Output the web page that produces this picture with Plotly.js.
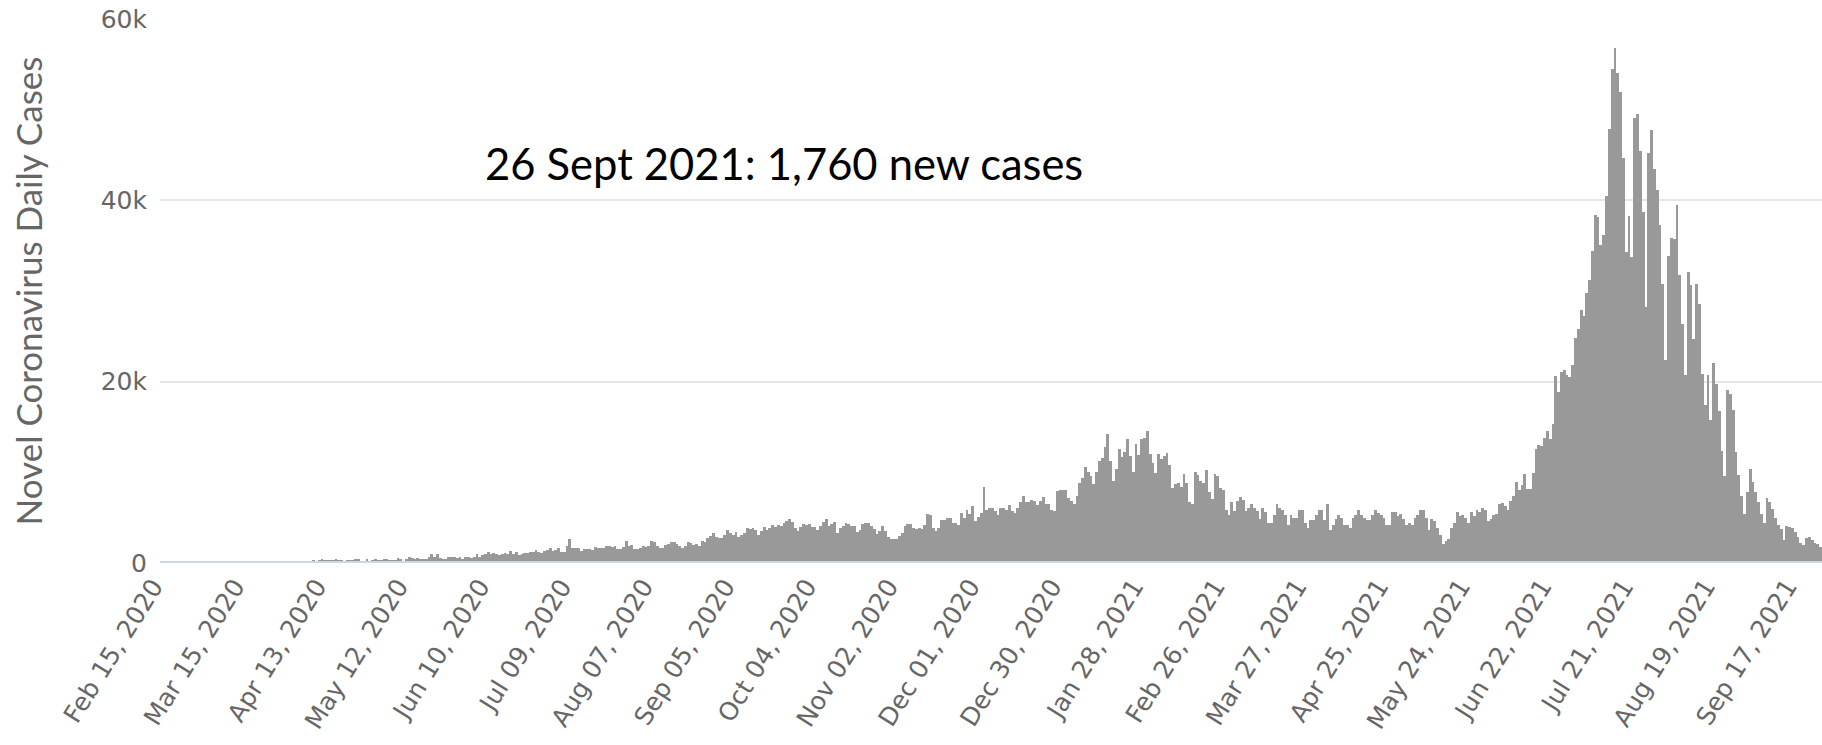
<!DOCTYPE html>
<html>
<head>
<meta charset="utf-8">
<script src="https://cdn.plot.ly/plotly-3.0.1.min.js"></script>
<style>
html, body { margin: 0; padding: 0; background: #ffffff; }
#chart { width: 1822px; height: 745px; }
</style>
</head>
<body>
<div id="chart"></div>
<script>
// ---- Data (daily new cases) ----
const firstDay = [2020, 1, 15]; // Feb 15, 2020 (UTC year, monthIndex, day)

const feb2020 = [0,0,0,0,0,0,0,0,0,0,0,0,0,0,0];
const mar2020 = [0,2,0,0,0,2,0,2,13,8,7,0,35,27,21,17,38,55,82,60,81,64,65,107,105,103,153,109,130,129,114];
const apr2020 = [149,113,196,106,181,218,247,218,337,219,330,399,316,282,297,380,407,325,327,185,375,283,357,436,396,275,214,415,260,347];
const may2020 = [433,292,349,395,484,367,338,336,533,387,233,484,689,568,490,529,489,496,486,693,973,634,949,526,479,415,686,687,678,557,700];
const jun2020 = [467,609,684,585,703,993,672,847,1043,1241,979,1111,1014,857,1017,1106,1031,1331,1041,1226,862,954,1051,1113,1178,1240,1385,1198,1082,1293];
const jul2020 = [1385,1624,1301,1447,1607,1209,1268,1853,2657,1611,1671,1681,1282,1591,1522,1574,1462,1752,1639,1693,1655,1882,1906,1761,1868,1492,1525,1748,2381,1904,2040];
const aug2020 = [1560,1519,1679,1922,1815,1882,2473,2277,1893,1687,1693,1942,2098,2307,2345,2081,1821,1673,1902,2266,2197,2037,2079,1877,2447,2306,2719,3003,3308,2858,2743];
const sep2020 = [2775,3075,3622,3269,3128,3444,2880,3046,3307,3861,3737,3806,3636,3141,3507,3963,3635,3891,4168,3989,4176,4071,4465,4634,4823,4494,3874,3509,4002,4284];
const oct2020 = [4174,4317,4007,3992,3622,4056,4538,4850,4094,4294,4497,3267,3906,4127,4411,4301,4105,4070,3373,3602,4267,4432,4369,4070,3732,3222,3520,4029,3565,2897,2696];
const nov2020 = [2617,2618,2973,3356,4065,4262,4301,3880,3779,3880,3770,4173,5444,5272,3807,3535,3807,4798,4792,4998,4998,4360,4442,4192,5534,4917,5828,5418,6267,4617];
const dec2020 = [5092,5533,8369,5803,6027,6089,5754,5292,6058,6033,5803,6388,5681,5489,6120,6726,7354,6689,6725,6982,6848,6347,6808,7259,6555,6528,5854,5700,7903,8002,8074];
const jan2021 = [8072,7203,6877,6500,7445,8854,9321,10617,10046,9640,8692,10047,11278,11557,12818,14224,11287,9086,10365,12568,11703,12191,13632,11788,9994,13094,11948,13695,13802,14518,12001];
const feb2021 = [10994,9961,11984,11434,11749,12156,10827,8242,8700,8776,8435,9869,8844,6765,6462,10029,9687,9039,8800,10300,7800,7100,9800,9600,8300,8000,5900,5300];
const mar2021 = [6680,5712,6808,7264,6971,5767,6100,6500,6100,5700,4800,6100,5600,4400,4400,5300,6500,6100,5900,5300,4200,5300,5000,5000,5900,5900,4400,3900,4700,4700,5300];
const apr2021 = [5900,5900,4700,6500,3600,4200,4900,5300,5000,4200,4200,3900,5000,5300,5900,5300,5000,4700,4700,5300,5900,5500,5300,5000,4200,4200,5600,5600,5200,5400];
const may2021 = [4800,4200,4400,4200,5000,5300,5900,5900,5000,3600,4800,4600,3900,3100,2100,2400,2700,3900,4400,5600,5200,5300,5000,4400,5600,5200,5900,5600,6100,5900,4600];
const jun2021 = [4824,5246,5353,6486,6594,6294,5832,6850,7383,8892,8083,8569,9868,8189,8161,9944,12624,12990,12906,13737,14536,13668,15308,20574,18872,21095,21342,20694,20467,21807];
const jul2021 = [24836,25830,27913,27233,29745,31189,34379,38391,38124,35094,36197,40427,47899,54517,56757,54000,51952,44721,34257,38325,33772,49071,49509,45416,38679,28228,45203,47791,43479,41168,37284];
const aug2021 = [30738,22404,33900,35867,35764,39532,31753,26415,20709,32081,30625,24709,30788,28598,20813,17384,20741,15768,22053,19706,16744,12408,9604,19106,18671,16899,12248,9737,7427,5436,7797];
const sep2021 = [10337,8955,7797,6727,5403,4413,7201,6731,5990,4923,4169,3779,2577,4128,3948,3835,3385,2843,2234,1932,2720,2881,2557,2195,2057,1760];

// ---- Tick labels ----
const xTickDates = ['2020-02-15','2020-03-15','2020-04-13','2020-05-12','2020-06-10','2020-07-09','2020-08-07','2020-09-05','2020-10-04','2020-11-02','2020-12-01','2020-12-30','2021-01-28','2021-02-26','2021-03-27','2021-04-25','2021-05-24','2021-06-22','2021-07-21','2021-08-19','2021-09-17'];
const xTickLabels = ['Feb 15, 2020','Mar 15, 2020','Apr 13, 2020','May 12, 2020','Jun 10, 2020','Jul 09, 2020','Aug 07, 2020','Sep 05, 2020','Oct 04, 2020','Nov 02, 2020','Dec 01, 2020','Dec 30, 2020','Jan 28, 2021','Feb 26, 2021','Mar 27, 2021','Apr 25, 2021','May 24, 2021','Jun 22, 2021','Jul 21, 2021','Aug 19, 2021','Sep 17, 2021'];
const yTickValues = [0, 20000, 40000, 60000];
const yTickLabels = ['0', '20k', '40k', '60k'];
const yAxisTitle = 'Novel Coronavirus Daily Cases';
const noteText = '26 Sept 2021: 1,760 new cases';

// ---- Build series ----
const dailyCases = [].concat(feb2020, mar2020, apr2020, may2020, jun2020, jul2020, aug2020,
  sep2020, oct2020, nov2020, dec2020, jan2021, feb2021, mar2021, apr2021, may2021,
  jun2021, jul2021, aug2021, sep2021);
const days = dailyCases.map(function (_, i) {
  const d = new Date(Date.UTC(firstDay[0], firstDay[1], firstDay[2] + i));
  return d.toISOString().slice(0, 10);
});
const lastDay = days[days.length - 1];

const trace = {
  type: 'bar',
  x: days,
  y: dailyCases,
  marker: { color: '#999999', line: { width: 0 } },
  hoverinfo: 'x+y'
};

const layout = {
  width: 1822,
  height: 745,
  margin: { l: 160, r: 0, t: 19, b: 182, pad: 0 },
  paper_bgcolor: '#ffffff',
  plot_bgcolor: '#ffffff',
  showlegend: false,
  bargap: 0,
  xaxis: {
    type: 'date',
    range: ['2020-02-14 12:00', lastDay + ' 12:00'],
    tickmode: 'array',
    tickvals: xTickDates,
    ticktext: xTickLabels,
    tickangle: -58,
    tickfont: { family: 'DejaVu Sans, Verdana, sans-serif', size: 25, color: '#666666' },
    ticklabelstandoff: 3,
    ticklabelshift: -8,
    showgrid: false,
    zeroline: false,
    showline: false,
    ticks: '',
    fixedrange: true
  },
  yaxis: {
    range: [0, 60000],
    tickmode: 'array',
    tickvals: yTickValues,
    ticktext: yTickLabels,
    tickfont: { family: 'DejaVu Sans, Verdana, sans-serif', size: 25, color: '#666666' },
    ticklabelstandoff: 12,
    showgrid: true,
    gridcolor: '#e6e6e6',
    gridwidth: 2,
    zeroline: false,
    showline: false,
    ticks: '',
    title: {
      text: yAxisTitle,
      font: { family: 'Lato, "Open Sans", sans-serif', size: 35, color: '#666666' },
      standoff: 47
    },
    fixedrange: true
  },
  shapes: [{
    type: 'line', layer: 'above',
    xref: 'paper', x0: 0, x1: 1,
    yref: 'y', y0: 0, y1: 0,
    line: { color: '#ccd6eb', width: 4 }
  }],
  annotations: [{
    xref: 'paper', yref: 'paper',
    x: 0.3755, y: 0.735,
    xanchor: 'center', yanchor: 'middle',
    text: noteText,
    showarrow: false,
    font: { family: 'Lato, "Open Sans", sans-serif', size: 43.5, color: '#000000' }
  }]
};

Plotly.newPlot('chart', [trace], layout, { displayModeBar: false, staticPlot: true });
</script>
</body>
</html>
